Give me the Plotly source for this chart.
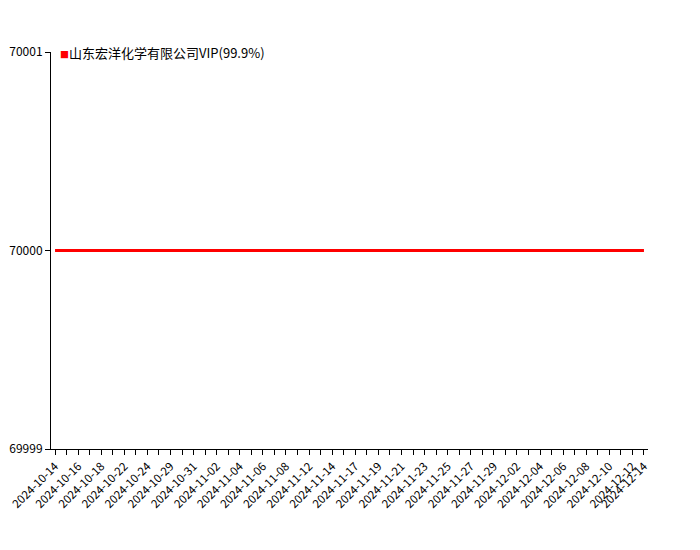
import plotly.graph_objects as go

dates = [
    "2024-10-14", "2024-10-15", "2024-10-16", "2024-10-17", "2024-10-18", "2024-10-21",
    "2024-10-22", "2024-10-23", "2024-10-24", "2024-10-28", "2024-10-29", "2024-10-30",
    "2024-10-31", "2024-11-01", "2024-11-02", "2024-11-03", "2024-11-04", "2024-11-05",
    "2024-11-06", "2024-11-07", "2024-11-08", "2024-11-11", "2024-11-12", "2024-11-13",
    "2024-11-14", "2024-11-15", "2024-11-17", "2024-11-18", "2024-11-19", "2024-11-20",
    "2024-11-21", "2024-11-22", "2024-11-23", "2024-11-24", "2024-11-25", "2024-11-26",
    "2024-11-27", "2024-11-28", "2024-11-29", "2024-12-01", "2024-12-02", "2024-12-03",
    "2024-12-04", "2024-12-05", "2024-12-06", "2024-12-07", "2024-12-08", "2024-12-09",
    "2024-12-10", "2024-12-11", "2024-12-12", "2024-12-14",
]
prices = [70000] * len(dates)
series_name = "山东宏洋化学有限公司VIP(99.9%)"
y_ticks = [69999, 70000, 70001]

tick_text = [d if (i % 2 == 0 or i == len(dates) - 1) else "" for i, d in enumerate(dates)]

font_family = "Noto Sans CJK SC, DejaVu Sans, sans-serif"

fig = go.Figure()
fig.add_trace(go.Scatter(
    x=dates, y=prices, mode="lines", name=series_name,
    line=dict(color="#ff0000", width=3), showlegend=False,
))

fig.add_annotation(
    xref="paper", yref="paper", x=0.012, y=1.0, xanchor="left", yanchor="middle",
    text="<span style='color:#ff0000;font-size:9px'>■</span>" + series_name,
    showarrow=False, font=dict(family=font_family, size=13, color="#000000"),
)

fig.update_layout(
    width=700, height=550,
    margin=dict(l=43, r=60, t=44, b=109, autoexpand=False),
    paper_bgcolor="white", plot_bgcolor="white",
    font=dict(family=font_family, size=12, color="#000000"),
)
fig.update_xaxes(
    type="category", categoryorder="array", categoryarray=dates,
    tickmode="array", tickvals=dates, ticktext=tick_text,
    tickangle=-45, ticks="outside", ticklen=5, tickcolor="#000000",
    showline=True, linecolor="#000000", linewidth=1, automargin=False,
    showgrid=False, zeroline=False, range=[-0.35, len(dates) - 1 + 0.35],
    tickfont=dict(size=11.5),
)
fig.update_yaxes(
    range=[69999, 70001], tickmode="array", tickvals=y_ticks,
    ticktext=[str(v) for v in y_ticks], automargin=False,
    ticks="outside", ticklen=5, tickcolor="#000000",
    showline=True, linecolor="#000000", linewidth=1,
    showgrid=False, zeroline=False, tickfont=dict(size=12),
)

fig.write_html("out.html")
